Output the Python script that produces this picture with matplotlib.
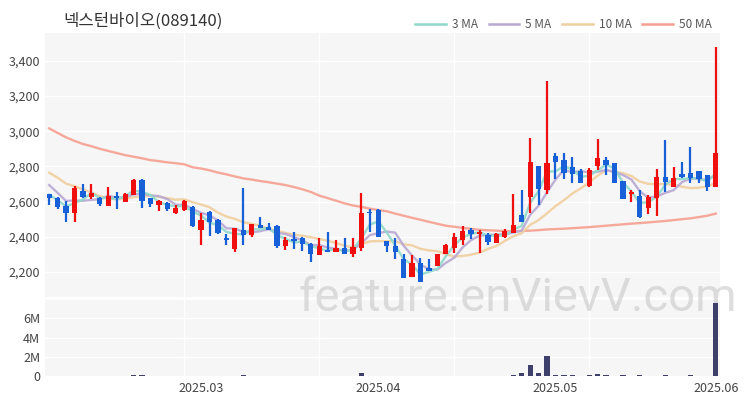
import matplotlib
matplotlib.use('Agg')
import matplotlib.pyplot as plt
from matplotlib.lines import Line2D
import numpy as np
import pandas as pd

plt.rcParams['font.family'] = ['Noto Sans CJK KR', 'DejaVu Sans']

title = '넥스턴바이오(089140)'

# trading days Feb 5 .. Jun 2 2025 (KRX holidays removed)
holidays = ['2025-03-03', '2025-05-01', '2025-05-05', '2025-05-06']
dates = [d for d in pd.bdate_range('2025-02-05', '2025-06-02') if d.strftime('%Y-%m-%d') not in holidays]

opens = [2643, 2622, 2575, 2533, 2662, 2624, 2618, 2577, 2632, 2600,
         2638, 2723, 2618, 2582, 2594, 2533, 2552, 2571, 2438, 2541,
         2495, 2395, 2330, 2438, 2408, 2465, 2457, 2463, 2349, 2389,
         2391, 2359, 2298, 2326, 2311, 2338, 2300, 2334, 2543, 2552,
         2378, 2349, 2273, 2172, 2251, 2225, 2233, 2303, 2335, 2382,
         2439, 2416, 2411, 2367, 2401, 2424, 2524, 2628, 2803, 2666,
         2861, 2837, 2795, 2776, 2689, 2802, 2836, 2817, 2719, 2643,
         2632, 2562, 2619, 2742, 2685, 2757, 2764, 2776, 2751, 2685]
highs = [2645, 2625, 2605, 2689, 2700, 2698, 2628, 2685, 2657, 2647,
         2727, 2727, 2622, 2609, 2600, 2580, 2609, 2577, 2533, 2548,
         2499, 2414, 2452, 2680, 2470, 2514, 2476, 2467, 2400, 2429,
         2397, 2362, 2391, 2429, 2381, 2395, 2391, 2651, 2556, 2556,
         2378, 2391, 2302, 2298, 2279, 2275, 2303, 2359, 2420, 2462,
         2449, 2439, 2420, 2420, 2443, 2644, 2666, 2960, 2803, 3288,
         2878, 2878, 2852, 2784, 2789, 2954, 2855, 2817, 2719, 2666,
         2666, 2638, 2783, 2950, 2799, 2827, 2912, 2776, 2751, 3477]
lows = [2581, 2556, 2482, 2486, 2618, 2613, 2575, 2577, 2556, 2600,
        2636, 2562, 2571, 2546, 2546, 2529, 2546, 2457, 2353, 2404,
        2414, 2353, 2311, 2353, 2400, 2448, 2438, 2334, 2326, 2330,
        2319, 2256, 2298, 2311, 2311, 2300, 2285, 2322, 2429, 2397,
        2311, 2273, 2165, 2172, 2142, 2203, 2233, 2303, 2307, 2354,
        2386, 2307, 2354, 2367, 2392, 2424, 2486, 2534, 2581, 2644,
        2727, 2727, 2708, 2704, 2685, 2780, 2751, 2704, 2613, 2600,
        2505, 2530, 2518, 2656, 2681, 2732, 2708, 2708, 2662, 2681]
closes = [2618, 2567, 2533, 2675, 2628, 2647, 2584, 2632, 2622, 2641,
          2723, 2605, 2584, 2603, 2556, 2562, 2605, 2463, 2495, 2484,
          2419, 2381, 2452, 2408, 2470, 2448, 2438, 2345, 2381, 2378,
          2359, 2302, 2345, 2311, 2338, 2300, 2342, 2533, 2533, 2397,
          2345, 2311, 2165, 2251, 2142, 2208, 2303, 2356, 2397, 2435,
          2416, 2429, 2373, 2416, 2435, 2467, 2486, 2824, 2670, 2818,
          2827, 2761, 2757, 2704, 2780, 2846, 2808, 2708, 2613, 2652,
          2511, 2628, 2742, 2713, 2732, 2738, 2732, 2727, 2685, 2874]
# closes before the window, only used to start the short moving averages
prior_closes = [2850, 2870, 2820, 2810, 2820, 2790, 2762, 2660, 2640]
ma50 = [3016, 2990, 2965, 2945, 2927, 2915, 2900, 2888, 2876, 2864,
        2855, 2846, 2836, 2830, 2823, 2818, 2812, 2795, 2788, 2778,
        2765, 2755, 2743, 2732, 2725, 2717, 2710, 2702, 2694, 2683,
        2670, 2655, 2634, 2620, 2605, 2590, 2578, 2570, 2560, 2552,
        2545, 2532, 2520, 2508, 2497, 2485, 2474, 2463, 2457, 2451,
        2445, 2440, 2437, 2435, 2433, 2432, 2433, 2435, 2438, 2442,
        2444, 2446, 2449, 2452, 2455, 2459, 2463, 2467, 2471, 2475,
        2478, 2482, 2486, 2490, 2495, 2500, 2505, 2512, 2520, 2532]
volumes = [0.04, 0.03, 0.04, 0.05, 0.03, 0.03, 0.02, 0.03, 0.03, 0.03,
           0.10, 0.10, 0.03, 0.02, 0.03, 0.02, 0.03, 0.03, 0.04, 0.03,
           0.02, 0.02, 0.03, 0.10, 0.03, 0.02, 0.02, 0.03, 0.02, 0.02,
           0.02, 0.03, 0.02, 0.02, 0.02, 0.02, 0.02, 0.30, 0.05, 0.03,
           0.02, 0.03, 0.04, 0.03, 0.04, 0.02, 0.03, 0.03, 0.03, 0.03,
           0.02, 0.04, 0.02, 0.02, 0.03, 0.15, 0.30, 1.10, 0.36, 2.10,
           0.15, 0.12, 0.06, 0.05, 0.06, 0.20, 0.06, 0.05, 0.06, 0.05,
           0.15, 0.05, 0.05, 0.12, 0.05, 0.05, 0.10, 0.05, 0.04, 7.60]
tick_dates = ['2025-03-04', '2025-04-02', '2025-05-02', '2025-06-02']
tick_labels = ['2025.03', '2025.04', '2025.05', '2025.06']

up_color = '#f00f0f'
down_color = '#1760d8'
bg = '#f6f6f6'

x = np.arange(len(closes))
o = np.array(opens)
c = np.array(closes)
colors = [up_color if cc >= oo else down_color for oo, cc in zip(o, c)]

allc = pd.Series(prior_closes + closes)
n0 = len(prior_closes)
ma3 = allc.rolling(3).mean().iloc[n0:].values
ma5 = allc.rolling(5).mean().iloc[n0:].values
ma10 = allc.rolling(10).mean().iloc[n0:].values

fig = plt.figure(figsize=(7.5, 4), dpi=100)
ax = fig.add_axes([0.06, 0.2575, 0.9, 0.66])
axv = fig.add_axes([0.06, 0.06, 0.9, 0.19], sharex=ax)

for a in (ax, axv):
    a.set_facecolor(bg)
    for s in a.spines.values():
        s.set_visible(False)
    a.tick_params(which='both', length=0, labelsize=9, labelcolor='#444444')
    a.set_axisbelow(True)

# moving averages
ax.plot(x, ma50, color='#f5a090', lw=1.7, alpha=0.9, zorder=2)
ax.plot(x, ma10, color='#f0cf9e', lw=1.7, alpha=0.9, zorder=2)
ax.plot(x, ma5, color='#b8a8d4', lw=1.7, alpha=0.9, zorder=2)
ax.plot(x, ma3, color='#8fd8cb', lw=1.7, alpha=0.9, zorder=2)

# candles
body = np.maximum(np.abs(c - o), 5)
ax.vlines(x, lows, highs, colors=colors, lw=1.6, zorder=3)
ax.bar(x, body, bottom=np.minimum(o, c), width=0.62, color=colors, zorder=4)

ax.set_ylim(2058, 3558)
yt = [2200, 2400, 2600, 2800, 3000, 3200, 3400]
ax.set_yticks(yt)
ax.set_yticklabels(['{:,}'.format(v) for v in yt])
ax.grid(axis='y', color='white', lw=1)
ax.set_xlim(-0.5, len(closes) - 0.5)
ax.tick_params(axis='x', which='both', labelbottom=False)

axv.bar(x, np.array(volumes) * 1e6, width=0.62, color='#3f3f6c', zorder=2)
axv.set_ylim(0, 7.9e6)
axv.set_yticks([0, 2e6, 4e6, 6e6])
axv.set_yticklabels(['0', '2M', '4M', '6M'])
axv.grid(axis='y', color='white', lw=1)

day_str = [d.strftime('%Y-%m-%d') for d in dates]
axv.set_xticks([day_str.index(t) for t in tick_dates])
axv.set_xticklabels(tick_labels)
axv.set_xticks([16, 32, 48, 64], minor=True)
axv.tick_params(axis='x', which='both', length=0, pad=4)
ax.tick_params(axis='x', which='both', length=0)
for a in (ax, axv):
    a.grid(axis='x', which='minor', color='white', lw=1)

fig.text(63 / 750, 1 - 21 / 400, title, fontsize=12, color='#333333', va='center')

handles = [Line2D([], [], color=col, lw=1.8) for col in ['#8fd8cb', '#b8a8d4', '#f0cf9e', '#f5a090']]
fig.legend(handles, ['3 MA', '5 MA', '10 MA', '50 MA'], loc='center right',
           bbox_to_anchor=(722 / 750, 1 - 25 / 400), ncol=4, frameon=False,
           fontsize=8.5, handlelength=2.6, handletextpad=0.5, columnspacing=0.9,
           labelcolor='#555555')

# watermark sits behind the volume bars
axv.text(518 / 750, 1 - 298 / 400, 'feature.enVievV.com', transform=fig.transFigure,
         fontsize=34, color='#c8c8c8', alpha=0.6, ha='center', va='center',
         family=['Roboto', 'DejaVu Sans'], zorder=1, clip_on=False)

fig.savefig('out.png', dpi=100, facecolor='white')
